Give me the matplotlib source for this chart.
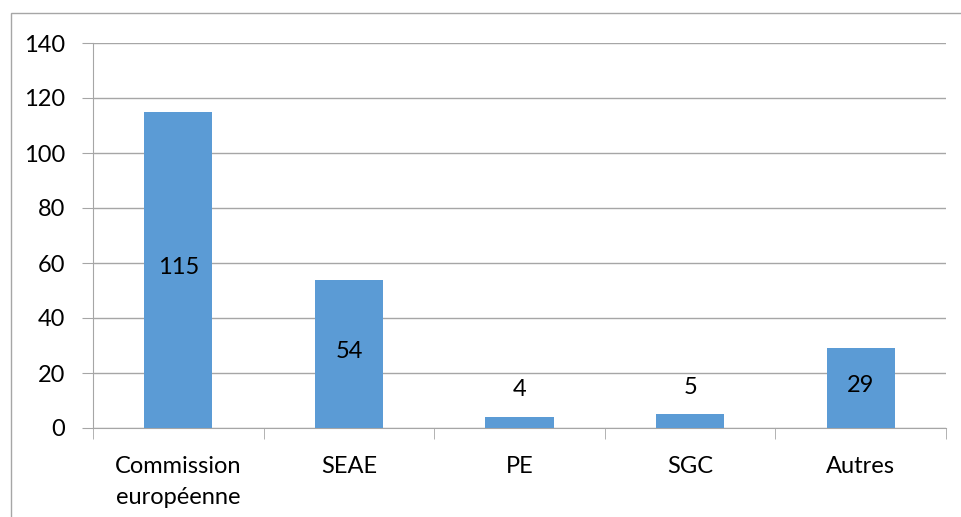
import matplotlib
matplotlib.use("Agg")
import matplotlib.pyplot as plt
from matplotlib.patches import Rectangle

categories = ["Commission\neuropéenne", "SEAE", "PE", "SGC", "Autres"]
values = [115, 54, 4, 5, 29]
yticks = [0, 20, 40, 60, 80, 100, 120, 140]

plt.rcParams["font.family"] = ["Lato", "DejaVu Sans"]
W, H = 962, 517
FS = 17

fig = plt.figure(figsize=(W / 100, H / 100), dpi=100)
# outer chart border (only left/top visible in the reference)
fig.patches.append(Rectangle((11 / W, -0.1), 1.2, 1 - 13 / H + 0.1, transform=fig.transFigure,
                             fill=False, edgecolor="#a6a6a6", linewidth=1.0))

ax = fig.add_axes([93 / W, 1 - 428 / H, (946 - 93) / W, (428 - 43) / H])
x = list(range(len(categories)))
bars = ax.bar(x, values, width=0.4, color="#5b9bd5", zorder=3)

ax.set_xlim(-0.5, len(categories) - 0.5)
ax.set_ylim(0, 140)
ax.set_yticks(yticks)
ax.set_yticklabels([str(v) for v in yticks], fontsize=FS)
ax.yaxis.grid(True, color="#a6a6a6", linewidth=1.0, zorder=0)
ax.set_xticks(x)
ax.set_xticklabels(categories, fontsize=FS, linespacing=1.6)
ax.tick_params(axis="x", length=0, pad=20)
ax.tick_params(axis="y", length=8, color="#a6a6a6", pad=12)

# category boundary ticks
ax.set_xticks([i - 0.5 for i in range(len(categories) + 1)], minor=True)
ax.tick_params(axis="x", which="minor", length=8, color="#a6a6a6", direction="out")

for s in ["top", "right"]:
    ax.spines[s].set_visible(False)
ax.spines["left"].set_color("#a6a6a6")
ax.spines["bottom"].set_color("#a6a6a6")

for xi, v in zip(x, values):
    if v >= 20:
        ax.text(xi, v / 2 + 1, str(v), ha="center", va="center", fontsize=FS, zorder=4)
    else:
        ax.text(xi, v + 6, str(v), ha="center", va="bottom", fontsize=FS, zorder=4)

fig.savefig("out.png", dpi=100)
